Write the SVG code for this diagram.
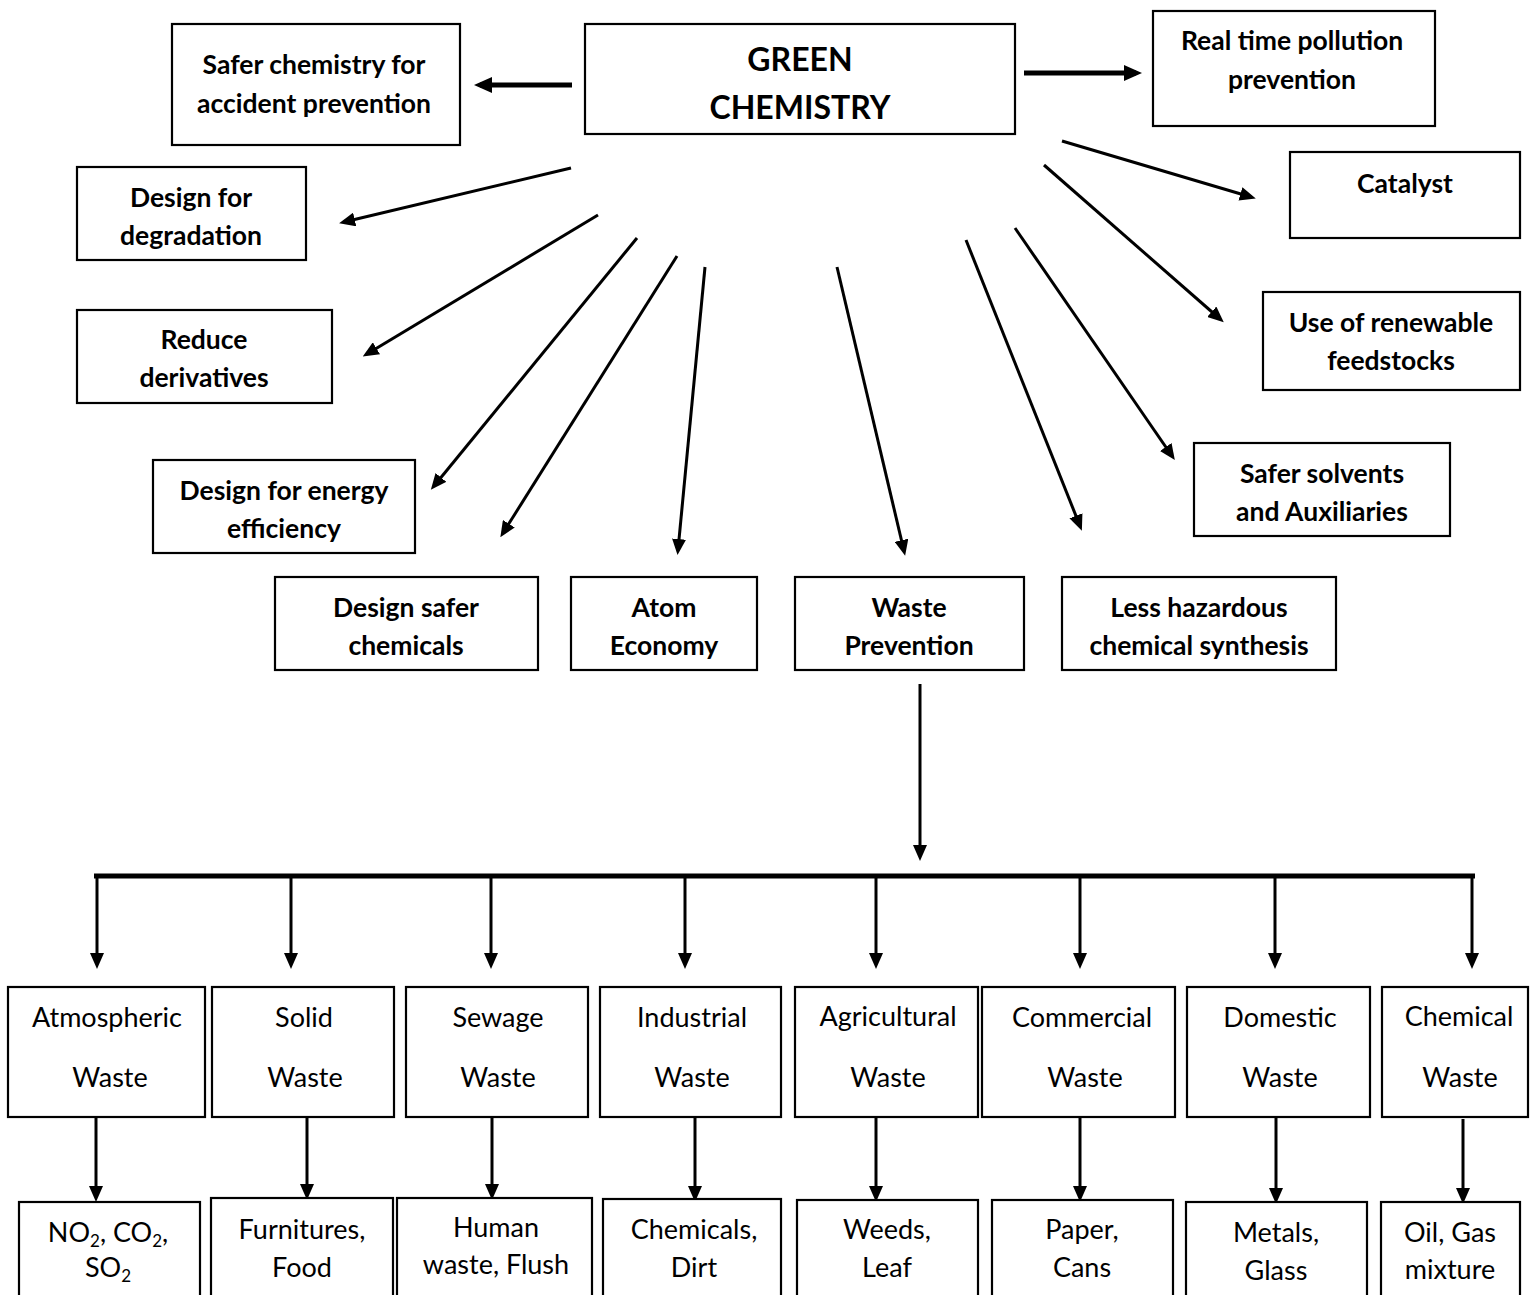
<svg xmlns="http://www.w3.org/2000/svg" width="1530" height="1295" viewBox="0 0 1530 1295">
<defs>
<marker id="big" markerUnits="userSpaceOnUse" markerWidth="18" markerHeight="16" refX="12" refY="8" orient="auto">
<path d="M0,0 L18,8 L0,16 z" fill="#000"/>
</marker>
<marker id="small" markerUnits="userSpaceOnUse" markerWidth="16" markerHeight="14" refX="11" refY="7" orient="auto">
<path d="M0,0 L16,7 L0,14 z" fill="#000"/>
</marker>
<style>
rect{fill:#fff;stroke:#000;stroke-width:2.2}
.b{font-family:Lato,"Liberation Sans",sans-serif;font-weight:bold;font-size:26.5px;text-anchor:middle;fill:#000}
.g{font-family:Lato,"Liberation Sans",sans-serif;font-weight:bold;font-size:32px;text-anchor:middle;fill:#000}
.r{font-family:Lato,"Liberation Sans",sans-serif;font-size:27px;text-anchor:middle;fill:#000}
.s{font-size:17px}
#connectors line{stroke:#000;fill:none}
.th{stroke-width:5}
.tn{stroke-width:3}
</style>
</defs>
<rect x="0" y="0" width="1530" height="1295" style="fill:#fff;stroke:none"/>

<g id="connectors">
<line class="th" x1="572" y1="85" x2="480" y2="85" marker-end="url(#big)"/>
<line class="th" x1="1024" y1="73" x2="1136" y2="73" marker-end="url(#big)"/>
<line class="tn" x1="1062" y1="141" x2="1251" y2="197" marker-end="url(#small)"/>
<line class="tn" x1="1044" y1="165" x2="1220" y2="319" marker-end="url(#small)"/>
<line class="tn" x1="1015" y1="228" x2="1172" y2="456" marker-end="url(#small)"/>
<line class="tn" x1="966" y1="240" x2="1080" y2="526" marker-end="url(#small)"/>
<line class="tn" x1="837" y1="267" x2="904" y2="551" marker-end="url(#small)"/>
<line class="tn" x1="705" y1="267" x2="678" y2="550" marker-end="url(#small)"/>
<line class="tn" x1="677" y1="256" x2="503" y2="533" marker-end="url(#small)"/>
<line class="tn" x1="637" y1="238" x2="434" y2="486" marker-end="url(#small)"/>
<line class="tn" x1="598" y1="215" x2="367" y2="354" marker-end="url(#small)"/>
<line class="tn" x1="571" y1="168" x2="344" y2="222" marker-end="url(#small)"/>
<line class="tn" x1="920" y1="684" x2="920" y2="856" marker-end="url(#small)"/>
<line class="th" x1="94" y1="876" x2="1475" y2="876"/>
<line class="tn" x1="97" y1="876" x2="97" y2="964" marker-end="url(#small)"/>
<line class="tn" x1="291" y1="876" x2="291" y2="964" marker-end="url(#small)"/>
<line class="tn" x1="491" y1="876" x2="491" y2="964" marker-end="url(#small)"/>
<line class="tn" x1="685" y1="876" x2="685" y2="964" marker-end="url(#small)"/>
<line class="tn" x1="876" y1="876" x2="876" y2="964" marker-end="url(#small)"/>
<line class="tn" x1="1080" y1="876" x2="1080" y2="964" marker-end="url(#small)"/>
<line class="tn" x1="1275" y1="876" x2="1275" y2="964" marker-end="url(#small)"/>
<line class="tn" x1="1472" y1="876" x2="1472" y2="964" marker-end="url(#small)"/>
<line class="tn" x1="96" y1="1117" x2="96" y2="1197" marker-end="url(#small)"/>
<line class="tn" x1="307" y1="1117" x2="307" y2="1195" marker-end="url(#small)"/>
<line class="tn" x1="492" y1="1117" x2="492" y2="1195" marker-end="url(#small)"/>
<line class="tn" x1="695" y1="1117" x2="695" y2="1197" marker-end="url(#small)"/>
<line class="tn" x1="876" y1="1117" x2="876" y2="1197" marker-end="url(#small)"/>
<line class="tn" x1="1080" y1="1117" x2="1080" y2="1197" marker-end="url(#small)"/>
<line class="tn" x1="1276" y1="1117" x2="1276" y2="1199" marker-end="url(#small)"/>
<line class="tn" x1="1463" y1="1119" x2="1463" y2="1199" marker-end="url(#small)"/>
</g>

<g id="green-chemistry"><rect x="585" y="24" width="430" height="110"/><text class="g" x="800" y="71">GREEN</text><text class="g" x="800" y="119">CHEMISTRY</text></g>
<g id="safer-chemistry"><rect x="172" y="24" width="288" height="121"/><text class="b" x="314" y="74">Safer chemistry for</text><text class="b" x="314" y="113">accident prevention</text></g>
<g id="real-time"><rect x="1153" y="11" width="282" height="115"/><text class="b" x="1292" y="50">Real time pollution</text><text class="b" x="1292" y="89">prevention</text></g>
<g id="catalyst"><rect x="1290" y="152" width="230" height="86"/><text class="b" x="1405" y="193">Catalyst</text></g>
<g id="degradation"><rect x="77" y="167" width="229" height="93"/><text class="b" x="191" y="207">Design for</text><text class="b" x="191" y="245">degradation</text></g>
<g id="reduce"><rect x="77" y="310" width="255" height="93"/><text class="b" x="204" y="349">Reduce</text><text class="b" x="204" y="387">derivatives</text></g>
<g id="renewable"><rect x="1263" y="292" width="257" height="98"/><text class="b" x="1391" y="332">Use of renewable</text><text class="b" x="1391" y="370">feedstocks</text></g>
<g id="energy"><rect x="153" y="460" width="262" height="93"/><text class="b" x="284" y="500">Design for energy</text><text class="b" x="284" y="538">efficiency</text></g>
<g id="solvents"><rect x="1194" y="443" width="256" height="93"/><text class="b" x="1322" y="483">Safer solvents</text><text class="b" x="1322" y="521">and Auxiliaries</text></g>
<g id="safer-chemicals"><rect x="275" y="577" width="263" height="93"/><text class="b" x="406" y="617">Design safer</text><text class="b" x="406" y="655">chemicals</text></g>
<g id="atom"><rect x="571" y="577" width="186" height="93"/><text class="b" x="664" y="617">Atom</text><text class="b" x="664" y="655">Economy</text></g>
<g id="waste-prevention"><rect x="795" y="577" width="229" height="93"/><text class="b" x="909" y="617">Waste</text><text class="b" x="909" y="655">Prevention</text></g>
<g id="less-hazardous"><rect x="1062" y="577" width="274" height="93"/><text class="b" x="1199" y="617">Less hazardous</text><text class="b" x="1199" y="655">chemical synthesis</text></g>

<g id="atmospheric"><rect x="8" y="987" width="197" height="130"/><text class="r" x="107" y="1027">Atmospheric</text><text class="r" x="110" y="1087">Waste</text></g>
<g id="solid"><rect x="212" y="987" width="182" height="130"/><text class="r" x="304" y="1027">Solid</text><text class="r" x="305" y="1087">Waste</text></g>
<g id="sewage"><rect x="406" y="987" width="182" height="130"/><text class="r" x="498" y="1027">Sewage</text><text class="r" x="498" y="1087">Waste</text></g>
<g id="industrial"><rect x="600" y="987" width="181" height="130"/><text class="r" x="692" y="1027">Industrial</text><text class="r" x="692" y="1087">Waste</text></g>
<g id="agricultural"><rect x="795" y="987" width="183" height="130"/><text class="r" x="888" y="1026">Agricultural</text><text class="r" x="888" y="1087">Waste</text></g>
<g id="commercial"><rect x="982" y="987" width="193" height="130"/><text class="r" x="1082" y="1027">Commercial</text><text class="r" x="1085" y="1087">Waste</text></g>
<g id="domestic"><rect x="1187" y="987" width="183" height="130"/><text class="r" x="1280" y="1027">Domestic</text><text class="r" x="1280" y="1087">Waste</text></g>
<g id="chemical"><rect x="1382" y="987" width="146" height="130"/><text class="r" x="1459" y="1026">Chemical</text><text class="r" x="1460" y="1087">Waste</text></g>

<g id="gases"><rect x="19" y="1202" width="181" height="100"/><text class="r" x="108" y="1242">NO<tspan class="s" dy="5">2</tspan><tspan dy="-5">, CO</tspan><tspan class="s" dy="5">2</tspan><tspan dy="-5">,</tspan></text><text class="r" x="108" y="1277">SO<tspan class="s" dy="5">2</tspan></text></g>
<g id="furnitures"><rect x="211" y="1198" width="182" height="104"/><text class="r" x="302" y="1239">Furnitures,</text><text class="r" x="302" y="1277">Food</text></g>
<g id="human"><rect x="397" y="1198" width="195" height="104"/><text class="r" x="496" y="1237">Human</text><text class="r" x="496" y="1274">waste, Flush</text></g>
<g id="chemicals-dirt"><rect x="603" y="1199" width="178" height="103"/><text class="r" x="694" y="1239">Chemicals,</text><text class="r" x="694" y="1277">Dirt</text></g>
<g id="weeds"><rect x="797" y="1200" width="181" height="102"/><text class="r" x="887" y="1239">Weeds,</text><text class="r" x="887" y="1277">Leaf</text></g>
<g id="paper"><rect x="992" y="1200" width="181" height="102"/><text class="r" x="1082" y="1239">Paper,</text><text class="r" x="1082" y="1277">Cans</text></g>
<g id="metals"><rect x="1186" y="1202" width="181" height="100"/><text class="r" x="1276" y="1242">Metals,</text><text class="r" x="1276" y="1280">Glass</text></g>
<g id="oil"><rect x="1381" y="1202" width="139" height="100"/><text class="r" x="1450" y="1242">Oil, Gas</text><text class="r" x="1450" y="1279">mixture</text></g>
</svg>
